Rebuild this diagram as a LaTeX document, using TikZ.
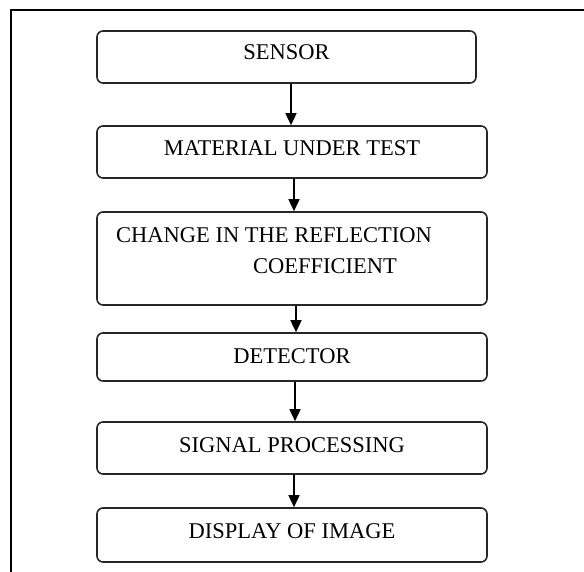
\documentclass[tikz,border=0pt]{standalone}
\usepackage{fontspec}
\setmainfont{Liberation Serif}
\usetikzlibrary{arrows.meta}
\begin{document}
\begin{tikzpicture}[x=1pt,y=-1pt,
  box/.style={draw=black!85, line width=1.6pt, rounded corners=6pt, inner sep=0pt, anchor=base, font=\fontsize{22.5}{27}\selectfont},
  plainbox/.style={draw=black!85, line width=1.6pt, rounded corners=6pt, inner sep=0pt},
  lbl/.style={inner sep=0pt, anchor=base west, font=\fontsize{22.5}{27}\selectfont},
  arr/.style={line width=1.5pt, -{Triangle[length=12pt,width=11pt]}},
  frame/.style={line width=1.4pt}]
\useasboundingbox (0,0) rectangle (584,572);
\coordinate (ftl) at (11,10);
\coordinate (ftr) at (586,10);
\coordinate (fbl) at (11,574);
\draw[frame] (ftr) -- (ftl) -- (fbl);
% boxes: node at (centre x, baseline), text height = baseline - top, depth = bottom - baseline
\node[box, minimum width=379pt, text height=29pt, text depth=23pt] (sensor) at (286.5,60) {SENSOR};
\node[box, minimum width=390pt, text height=30pt, text depth=22pt] (mat) at (292,156) {MATERIAL UNDER TEST};
\node[plainbox, minimum width=390pt, minimum height=93pt] (change) at (292,258.5) {};
\node[lbl] (change1) at (116,243) {CHANGE IN THE REFLECTION};
\node[lbl] (change2) at (253,273) {COEFFICIENT};
\node[box, minimum width=390pt, text height=30pt, text depth=18pt] (det) at (292,363) {DETECTOR};
\node[box, minimum width=390pt, text height=30pt, text depth=22pt] (sig) at (292,452) {SIGNAL PROCESSING};
\node[box, minimum width=390pt, text height=30pt, text depth=24pt] (disp) at (292,538) {DISPLAY OF IMAGE};
% arrows
\draw[arr] ([xshift=4.5pt]sensor.south) -- ([xshift=4.5pt]sensor.south |- mat.north);
\draw[arr] ([xshift=2pt]mat.south) -- ([xshift=2pt]mat.south |- change.north);
\draw[arr] ([xshift=4pt]change.south) -- ([xshift=4pt]change.south |- det.north);
\draw[arr] ([xshift=3pt]det.south) -- ([xshift=3pt]det.south |- sig.north);
\draw[arr] ([xshift=2pt]sig.south) -- ([xshift=2pt]sig.south |- disp.north);
\end{tikzpicture}
\end{document}
